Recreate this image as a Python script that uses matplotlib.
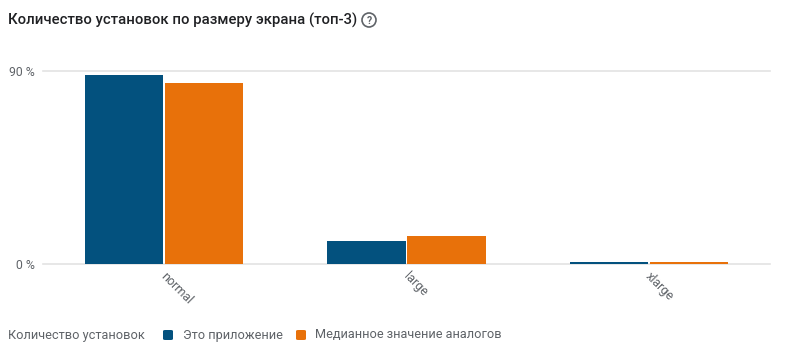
import matplotlib.pyplot as plt
from matplotlib.patches import FancyBboxPatch, Ellipse
from matplotlib.transforms import ScaledTranslation
import numpy as np

plt.rcParams['font.family'] = ['Roboto', 'DejaVu Sans']

# data (percent of installs)
categories = ['normal', 'large', 'xlarge']
this_app = [88.1, 10.6, 0.9]
peers_median = [84.3, 12.9, 0.7]
y_ticks = [0, 90]
y_tick_labels = ['0 %', '90 %']

title = 'Количество установок по размеру экрана (топ-3)'
legend_title = 'Количество установок'
series_names = ['Это приложение', 'Медианное значение аналогов']
colors = ['#03517e', '#e8710a']

W, H = 789, 357
fig = plt.figure(figsize=(W / 100, H / 100), dpi=100)
ax = fig.add_axes([43 / W, 1 - 264 / H, 727 / W, 193 / H])

x = np.arange(len(categories))
w = 0.322
ax.bar(x - w / 2 - 0.004, this_app, width=w, color=colors[0], zorder=3)
ax.bar(x + w / 2 + 0.004, peers_median, width=w, color=colors[1], zorder=3)

ax.set_xlim(-0.5, len(categories) - 0.5)
ax.set_ylim(0, 90)
ax.set_yticks(y_ticks)
ax.set_yticklabels(y_tick_labels)
for t in y_ticks:
    ax.axhline(t, color='#e3e3e3', lw=1.2, zorder=1, clip_on=False)
for s in ax.spines.values():
    s.set_visible(False)
ax.tick_params(axis='y', length=0, pad=6, labelsize=8.8, labelcolor='#5f6368')
ax.tick_params(axis='x', length=0, pad=4, labelsize=9, labelcolor='#5f6368')
ax.set_xticks(x)
ax.set_xticklabels(categories, rotation=-45, ha='left', va='top')
shift = ScaledTranslation(-6 / 100, 0, fig.dpi_scale_trans)
for lbl in ax.get_xticklabels():
    lbl.set_transform(lbl.get_transform() + shift)

# title with help icon
fig.text(8 / W, 1 - 20 / H, title, fontsize=10.7, color='#202124',
         ha='left', va='center', fontweight='medium')
fig.patches.append(Ellipse((369 / W, 1 - 20 / H), 14 / W, 14 / H, transform=fig.transFigure,
                           fill=False, ec='#5f6368', lw=1.2))
fig.text(369 / W, 1 - 20.5 / H, '?', fontsize=7.5, color='#5f6368',
         ha='center', va='center', fontweight='bold')

# legend row
ly = 1 - 335 / H
fig.text(8 / W, ly, legend_title, fontsize=9.2, color='#5f6368', ha='left', va='center')
fig.text(183 / W, ly, series_names[0], fontsize=9.2, color='#5f6368', ha='left', va='center')
fig.text(315 / W, ly, series_names[1], fontsize=9.2, color='#5f6368', ha='left', va='center')
for x0, c in [(163, colors[0]), (296, colors[1])]:
    fig.patches.append(FancyBboxPatch((x0 / W, ly - 5 / H), 10 / W, 10 / H,
                                      boxstyle='round,pad=0,rounding_size=0.003',
                                      transform=fig.transFigure, fc=c, ec='none'))

fig.savefig('out.png', dpi=100)
